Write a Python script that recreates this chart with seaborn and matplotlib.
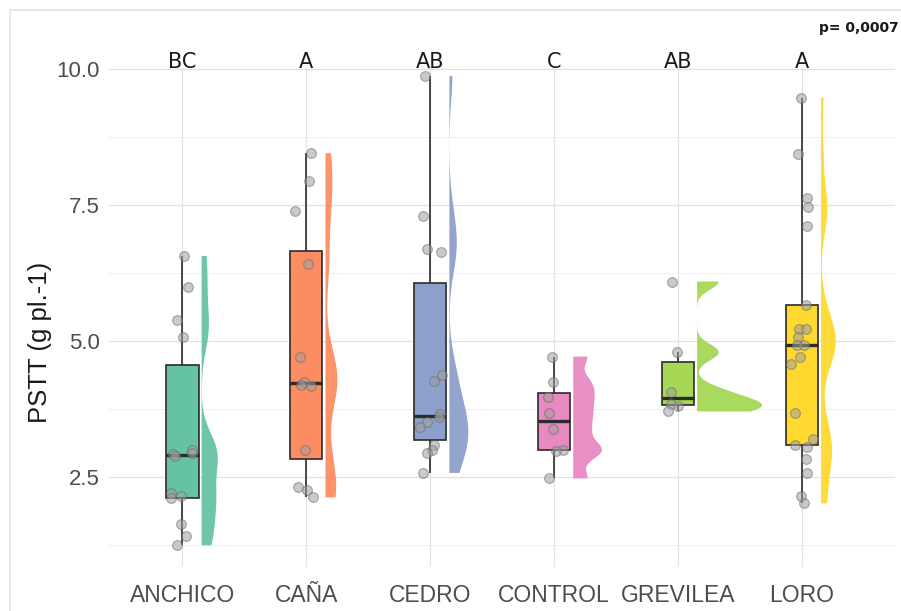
import numpy as np
import pandas as pd
import seaborn as sns
import matplotlib.pyplot as plt
import matplotlib.transforms as mtransforms
from matplotlib.patches import Rectangle
from matplotlib.ticker import MultipleLocator

tratamientos = ['ANCHICO', 'CAÑA', 'CEDRO', 'CONTROL', 'GREVILEA', 'LORO']
letras = ['BC', 'A', 'AB', 'C', 'AB', 'A']
colores = ['#66c2a5', '#fc8d62', '#8da0cb', '#e78ac3', '#a6d854', '#ffd92f']

# valores (PSTT, g pl.-1)
anchico = [6.57, 6.00, 5.40, 5.08, 3.00, 2.95, 2.93, 2.90, 2.21, 2.16, 2.11, 1.65, 1.42, 1.25]
cana = [8.46, 7.95, 7.39, 6.42, 4.71, 4.25, 4.20, 4.17, 3.00, 2.32, 2.26, 2.13]
cedro = [9.88, 7.30, 6.70, 6.64, 4.39, 4.27, 3.67, 3.60, 3.52, 3.42, 3.10, 3.00, 2.95, 2.58]
control = [4.72, 4.25, 3.98, 3.69, 3.38, 3.00, 2.98, 2.48]
grevilea = [6.10, 4.80, 4.06, 3.85, 3.82, 3.71]
loro = [9.48, 8.44, 7.64, 7.47, 7.13, 5.67, 5.23, 5.22, 5.08, 4.93, 4.93, 4.71, 4.59,
        3.69, 3.21, 3.09, 3.06, 2.84, 2.58, 2.15, 2.02]

valores = [anchico, cana, cedro, control, grevilea, loro]
df = pd.DataFrame({
    'tratamiento': np.repeat(tratamientos, [len(v) for v in valores]),
    'pstt': np.concatenate(valores),
})
df['lado'] = 'der'


def nrd0(kde):
    # ancho de banda tipo R (bw.nrd0), devuelto como factor para gaussian_kde
    x = kde.dataset[0]
    sd = x.std(ddof=1)
    q75, q25 = np.percentile(x, [75, 25])
    h = 0.9 * min(sd, (q75 - q25) / 1.34) * len(x) ** -0.2
    return h / sd


sns.set_theme(style='whitegrid')
plt.rcParams['font.family'] = ['Liberation Sans', 'DejaVu Sans']

fig = plt.figure(figsize=(9.01, 6.11), dpi=100)
ax = fig.add_axes([0.12, 0.072, 0.873, 0.817])

# half violins (right side), shifted next to the boxes
w = 0.525
n0 = len(ax.collections)
sns.violinplot(data=df, x='tratamiento', y='pstt', hue='lado', hue_order=['izq', 'der'],
               order=tratamientos, split=True, inner=None, cut=0, density_norm='area',
               bw_method=nrd0, bw_adjust=0.4, width=w, linewidth=0, legend=False, ax=ax)
shift = mtransforms.Affine2D().translate(0.155 + w / 2, 0) + ax.transData
for c, col in zip(ax.collections[n0:], colores):
    c.set_facecolor(col)
    c.set_edgecolor('none')
    c.set_alpha(0.95)
    c.set_transform(shift)

sns.boxplot(data=df, x='tratamiento', y='pstt', hue='tratamiento', order=tratamientos,
            hue_order=tratamientos, palette=colores, saturation=1, width=0.26,
            showfliers=False, linecolor='#2b2b2b', linewidth=1.2,
            medianprops={'linewidth': 2.4}, capprops={'linewidth': 0},
            dodge=False, legend=False, ax=ax)

np.random.seed(3)
sns.stripplot(data=df, x='tratamiento', y='pstt', order=tratamientos, color='#a0a0a0',
              alpha=0.55, size=7, jitter=0.1, edgecolor='#666666', linewidth=0.8, ax=ax)

ax.set_xlim(-0.6, 5.75)
ax.set_ylim(0.85, 10.03)
ax.set_yticks([2.5, 5.0, 7.5, 10.0])
ax.yaxis.set_minor_locator(MultipleLocator(1.25))
ax.set_axisbelow(True)
ax.xaxis.grid(True, which='major', color='#e2e2e2', linewidth=0.9)
ax.yaxis.grid(True, which='major', color='#e2e2e2', linewidth=0.9)
ax.yaxis.grid(True, which='minor', color='#efefef', linewidth=0.7)
for s in ax.spines.values():
    s.set_visible(False)
ax.tick_params(which='both', length=0, labelsize=16, labelcolor='#4d4d4d')
ax.tick_params(axis='x', pad=12, labelsize=16.5)
ax.tick_params(axis='y', pad=6)
ax.set_xlabel('')
ax.set_ylabel('PSTT (g pl.-1)', fontsize=18.5, color='#1a1a1a')
ax.yaxis.set_label_coords(-0.071, 0.449)

for i, l in enumerate(letras):
    ax.text(i, 10.02, l, ha='center', va='baseline', fontsize=15, family='DejaVu Sans',
            color='#1a1a1a', clip_on=False)

fig.text(0.997, 1 - 32 / 611, 'p= 0,0007', ha='right', va='baseline', fontsize=10,
         family='DejaVu Sans', weight='semibold', color='#1a1a1a')

fig.add_artist(Rectangle((10 / 901, -0.05), 1.1, 1 - 10 / 611 + 0.05, transform=fig.transFigure,
                         fill=False, edgecolor='#ece8dc', linewidth=1.5, zorder=0))

fig.savefig('out.png', dpi=100)
